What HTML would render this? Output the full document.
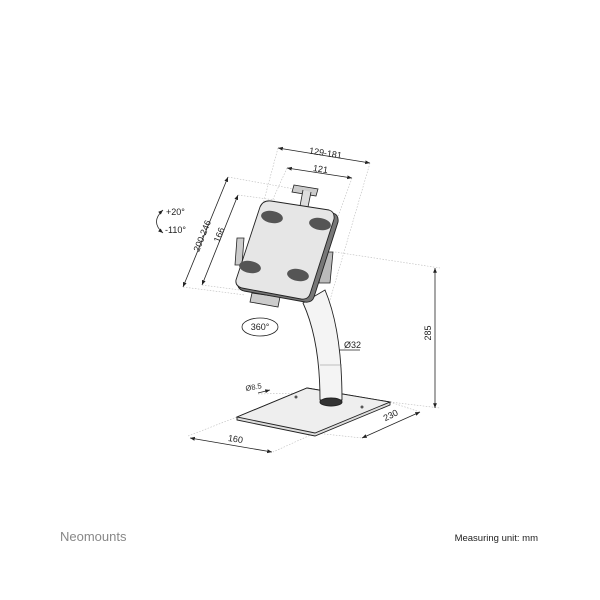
<!DOCTYPE html>
<html><head><meta charset="utf-8"><style>
html,body{margin:0;padding:0;background:#fff;}
svg{display:block;font-family:"Liberation Sans",sans-serif;}
</style></head><body>
<svg width="600" height="600" viewBox="0 0 600 600" xmlns="http://www.w3.org/2000/svg">
<defs>
<marker id="a" viewBox="0 0 10 10" refX="10" refY="5" markerWidth="6" markerHeight="6" orient="auto-start-reverse"><path d="M0,1 L10,5 L0,9 z" fill="#222"/></marker>
</defs>
<g stroke="#bbb" stroke-width="0.6" stroke-dasharray="1.5,1.5" fill="none">
<line x1="278" y1="148" x2="240" y2="290"/>
<line x1="370" y1="163" x2="330" y2="300"/>
<line x1="287" y1="168" x2="268" y2="210"/>
<line x1="352" y1="178" x2="335" y2="225"/>
<line x1="228" y1="177" x2="300" y2="190"/>
<line x1="238" y1="195" x2="275" y2="200"/>
<line x1="183" y1="287" x2="245" y2="295"/>
<line x1="202" y1="285" x2="240" y2="290"/>
<line x1="335" y1="252" x2="440" y2="268"/>
<line x1="390" y1="402" x2="440" y2="408"/>
<line x1="237" y1="417" x2="188" y2="436"/>
<line x1="315" y1="433" x2="273" y2="452"/>
<line x1="315" y1="433" x2="362" y2="438"/>
<line x1="390" y1="402" x2="420" y2="412"/>
<line x1="258" y1="394" x2="300" y2="393"/>
</g>
<g stroke="#222" stroke-width="0.8" fill="none">
<line x1="278" y1="148" x2="370" y2="163" marker-start="url(#a)" marker-end="url(#a)"/>
<line x1="287" y1="168" x2="352" y2="178" marker-start="url(#a)" marker-end="url(#a)"/>
<line x1="228" y1="177" x2="183" y2="287" marker-start="url(#a)" marker-end="url(#a)"/>
<line x1="238" y1="195" x2="202" y2="285" marker-start="url(#a)" marker-end="url(#a)"/>
<line x1="435" y1="268" x2="435" y2="408" marker-start="url(#a)" marker-end="url(#a)"/>
<line x1="362" y1="438" x2="420" y2="412" marker-start="url(#a)" marker-end="url(#a)"/>
<line x1="190" y1="438" x2="272" y2="452" marker-start="url(#a)" marker-end="url(#a)"/>
<line x1="322" y1="350" x2="342" y2="350" marker-start="url(#a)"/>
<line x1="342" y1="350" x2="360" y2="350"/>
<line x1="258" y1="393" x2="270" y2="390" marker-end="url(#a)"/>
<path d="M163,210 Q150,222 163,233" marker-start="url(#a)" marker-end="url(#a)"/>
</g>
<ellipse cx="260" cy="327" rx="18" ry="9" fill="none" stroke="#222" stroke-width="0.8"/>
<!-- base -->
<path d="M237,417 L307,388 L390,402 L390,405 L315,436 L237,420 z" fill="#ddd" stroke="#222" stroke-width="0.9"/>
<path d="M237,417 L307,388 L390,402 L315,433 z" fill="#eee" stroke="#222" stroke-width="0.9"/>
<circle cx="296" cy="397" r="1.5" fill="#555"/><circle cx="362" cy="407" r="1.5" fill="#555"/>
<!-- neck -->
<path d="M303,303 Q320,340 320,400 L342,400 Q342,330 325,290 z" fill="#f4f4f4" stroke="#222" stroke-width="0.9"/>
<ellipse cx="331" cy="402" rx="11" ry="4" fill="#333" stroke="#222"/>
<line x1="320" y1="365" x2="342" y2="365" stroke="#888" stroke-width="0.6"/>
<!-- clamps -->
<path d="M294,185 L318,189 L316,196 L292,192 z" fill="#ccc" stroke="#222" stroke-width="0.8"/>
<path d="M303,190 L300,206 L308,207 L311,192" fill="#ddd" stroke="#222" stroke-width="0.8"/>
<path d="M237,238 L244,238 L242,265 L235,265 z" fill="#ccc" stroke="#222" stroke-width="0.8"/>
<path d="M323,252 L333,252 L330,283 L319,283 z" fill="#bbb" stroke="#222" stroke-width="0.8"/>
<path d="M252,293 L280,297 L278,307 L250,302 z" fill="#ccc" stroke="#222" stroke-width="0.8"/>
<!-- tablet -->
<path d="M273,204 L333,213 Q339,215 338,222 L314,297 Q312,303 305,302 L244,291 Q237,289 238,283 L262,210 Q265,203 273,204 z" fill="#777" stroke="#222" stroke-width="0.9"/>
<path d="M271,201 L329,210 Q335,212 334,219 L310,294 Q308,300 301,299 L242,288 Q235,286 236,280 L260,207 Q263,200 271,201 z" fill="#e6e6e6" stroke="#222" stroke-width="0.9"/>
<g fill="#555">
<ellipse cx="272" cy="217" rx="11" ry="6" transform="rotate(10 272 217)"/>
<ellipse cx="320" cy="224" rx="11" ry="6" transform="rotate(10 320 224)"/>
<ellipse cx="250" cy="267" rx="11" ry="6" transform="rotate(10 250 267)"/>
<ellipse cx="298" cy="275" rx="11" ry="6" transform="rotate(10 298 275)"/>
</g>
<!-- labels -->
<g font-size="9" fill="#222">
<text x="325" y="156" text-anchor="middle" transform="rotate(9 325 156)">129-181</text>
<text x="320" y="172" text-anchor="middle" transform="rotate(9 320 172)">121</text>
<text x="205" y="237" text-anchor="middle" transform="rotate(-68 205 237)">200-246</text>
<text x="222" y="236" text-anchor="middle" transform="rotate(-68 222 236)">166</text>
<text x="431" y="333" text-anchor="middle" transform="rotate(-90 431 333)">285</text>
<text x="392" y="418" text-anchor="middle" transform="rotate(-27 392 418)">230</text>
<text x="235" y="442" text-anchor="middle" transform="rotate(9 235 442)">160</text>
<text x="344" y="348">Ø32</text>
<text x="166" y="215">+20°</text>
<text x="165" y="233">-110°</text>
<text x="260" y="330" text-anchor="middle">360°</text>
<text x="246" y="391" font-size="7.5" transform="rotate(-10 246 391)">Ø8.5</text>
</g>
<text x="60" y="541" font-size="13" fill="#888">Neomounts</text>
<text x="538" y="541" font-size="9.5" fill="#222" text-anchor="end">Measuring unit: mm</text>
</svg>
</body></html>
